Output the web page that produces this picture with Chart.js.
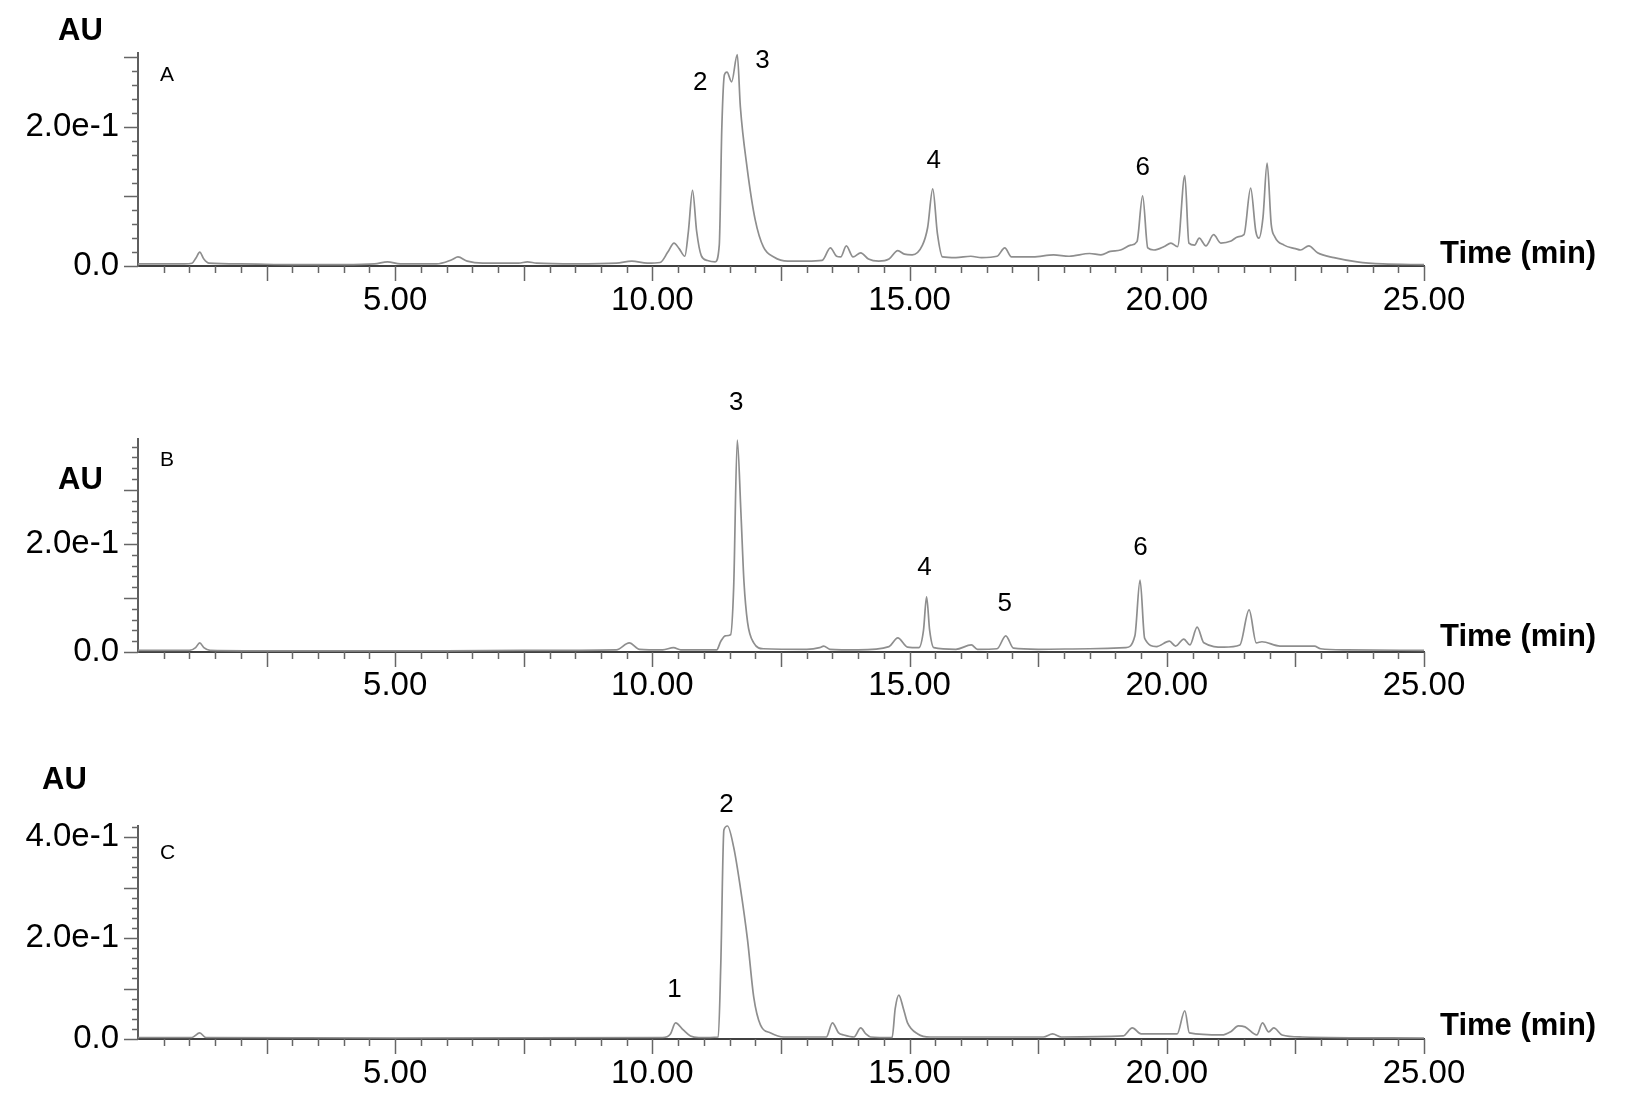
<!DOCTYPE html>
<html><head><meta charset="utf-8">
<script src="https://cdn.jsdelivr.net/npm/chart.js@4.4.1/dist/chart.umd.min.js"></script>
<style>
html,body{margin:0;padding:0;background:#fff;width:1630px;height:1102px;overflow:hidden}
canvas{position:absolute;left:0}
</style></head><body>
<canvas id="cA" width="1630" height="340" style="top:0px"></canvas>
<canvas id="cB" width="1630" height="370" style="top:340px"></canvas>
<canvas id="cC" width="1630" height="392" style="top:710px"></canvas>
<script>
// ---------- data (time in min, absorbance in AU) ----------
const timeA = [0,0.9,1.05,1.13,1.2,1.28,1.38,2,3,4,4.6,4.85,5.1,5.8,6.1,6.22,6.4,6.7,7.4,7.57,7.75,8.5,9.3,9.6,9.9,10.15,10.3,10.42,10.52,10.63,10.7,10.78,10.86,10.95,11.07,11.22,11.3,11.35,11.4,11.45,11.54,11.65,11.71,11.84,12.0,12.16,12.36,12.63,13.0,13.3,13.46,13.58,13.66,13.77,13.9,14.05,14.2,14.4,14.6,14.77,14.9,15.05,15.25,15.35,15.45,15.54,15.64,15.9,16.19,16.4,16.7,16.85,16.98,17.4,17.8,18.1,18.5,18.72,18.9,19.1,19.3,19.42,19.53,19.63,19.75,19.95,20.08,20.21,20.35,20.43,20.54,20.63,20.76,20.91,21.05,21.25,21.38,21.5,21.63,21.73,21.79,21.87,21.95,22.03,22.1,22.28,22.5,22.6,22.76,22.93,23.25,23.7,24.2,25];
const auA   = [0.003,0.003,0.004,0.012,0.020,0.010,0.004,0.003,0.002,0.002,0.003,0.006,0.003,0.003,0.009,0.013,0.007,0.004,0.004,0.006,0.004,0.003,0.004,0.007,0.004,0.005,0.020,0.033,0.025,0.014,0.050,0.109,0.050,0.015,0.008,0.006,0.030,0.200,0.275,0.279,0.265,0.304,0.229,0.142,0.066,0.027,0.013,0.007,0.007,0.008,0.026,0.014,0.013,0.029,0.013,0.019,0.010,0.007,0.010,0.022,0.017,0.016,0.030,0.055,0.111,0.047,0.013,0.012,0.014,0.012,0.014,0.026,0.013,0.013,0.016,0.014,0.018,0.016,0.021,0.023,0.030,0.035,0.101,0.026,0.023,0.028,0.033,0.028,0.130,0.033,0.030,0.040,0.029,0.045,0.033,0.036,0.042,0.045,0.112,0.050,0.040,0.070,0.148,0.060,0.042,0.030,0.025,0.023,0.029,0.019,0.012,0.006,0.003,0.002];

const timeB = [0,1.0,1.12,1.2,1.28,1.4,3,6,7.5,9.3,9.55,9.75,10.2,10.41,10.55,11.25,11.33,11.42,11.52,11.58,11.65,11.72,11.78,11.85,11.97,12.16,13.0,13.25,13.33,13.45,14.0,14.6,14.77,14.96,15.18,15.27,15.33,15.39,15.47,15.9,16.2,16.32,16.7,16.87,17.02,17.5,18.5,19.2,19.38,19.48,19.57,19.8,20.05,20.17,20.33,20.45,20.59,20.72,21.11,21.42,21.6,21.74,21.85,22.2,22.87,22.99,23.5,25];
const auB   = [0.003,0.003,0.008,0.017,0.008,0.003,0.002,0.002,0.003,0.004,0.017,0.005,0.004,0.008,0.004,0.004,0.020,0.030,0.032,0.120,0.392,0.260,0.130,0.055,0.017,0.006,0.005,0.008,0.011,0.005,0.004,0.010,0.026,0.009,0.008,0.040,0.102,0.040,0.008,0.005,0.013,0.005,0.006,0.030,0.007,0.005,0.006,0.008,0.030,0.133,0.025,0.010,0.020,0.011,0.024,0.013,0.046,0.017,0.009,0.013,0.078,0.017,0.019,0.011,0.011,0.006,0.004,0.003];

const timeC = [0,1.05,1.2,1.32,5,10.2,10.35,10.45,10.6,10.74,10.9,11.28,11.33,11.39,11.46,11.58,11.71,11.85,11.97,12.1,12.3,12.55,13.38,13.5,13.62,13.72,13.92,14.05,14.15,14.24,14.66,14.72,14.79,14.88,14.96,15.16,15.4,17.6,17.78,17.95,19.15,19.33,19.5,20.2,20.35,20.44,21.07,21.25,21.39,21.52,21.75,21.86,21.98,22.08,22.24,22.63,25];
const auC   = [0.003,0.003,0.012,0.003,0.002,0.003,0.010,0.032,0.018,0.006,0.003,0.004,0.150,0.414,0.422,0.380,0.300,0.196,0.083,0.028,0.012,0.004,0.004,0.032,0.012,0.008,0.004,0.022,0.010,0.004,0.003,0.060,0.087,0.060,0.032,0.010,0.004,0.004,0.010,0.004,0.006,0.022,0.010,0.010,0.056,0.012,0.008,0.015,0.026,0.024,0.008,0.032,0.014,0.022,0.008,0.004,0.002];

// tick labels
const xTickValues = [5, 10, 15, 20, 25];
const xTickLabels = ['5.00', '10.00', '15.00', '20.00', '25.00'];
const yTickValues = [0, 0.2, 0.4];
const yTickLabels = ['0.0', '2.0e-1', '4.0e-1'];

// panel letters and peak labels
const panelLetters = ['A', 'B', 'C'];
const peakTextA = ['2', '3', '4', '6'];
const peakTimeA = [10.93, 12.14, 15.47, 19.53];
const peakAUA   = [0.263, 0.295, 0.151, 0.141];
const peakTextB = ['3', '4', '5', '6'];
const peakTimeB = [11.63, 15.29, 16.85, 19.49];
const peakAUB   = [0.461, 0.156, 0.089, 0.193];
const peakTextC = ['1', '2'];
const peakTimeC = [10.43, 11.44];
const peakAUC   = [0.097, 0.463];

// ---------- rendering ----------
const FONT = "'Liberation Sans', Arial, Helvetica, sans-serif";

const decor = {
  id: 'decor',
  afterDraw(chart, args, o) {
    const ctx = chart.ctx, xs = chart.scales.x, ys = chart.scales.y, ca = chart.chartArea;
    ctx.save();
    ctx.strokeStyle = '#666';
    ctx.lineWidth = 1.5;
    for (let i = 1; i <= 50; i++) {
      const px = Math.round(xs.getPixelForValue(i * 0.5)) + 0.5;
      const major = i % 5 === 0;
      ctx.beginPath(); ctx.moveTo(px, ca.bottom); ctx.lineTo(px, ca.bottom + (major ? 15 : 7)); ctx.stroke();
    }
    const n = Math.floor(o.yMax / 0.02 + 1e-6);
    for (let i = 0; i <= n; i++) {
      const py = Math.round(ys.getPixelForValue(i * 0.02)) + 0.5;
      const major = i % 5 === 0;
      ctx.beginPath(); ctx.moveTo(ca.left, py); ctx.lineTo(ca.left - (major ? 14 : 6), py); ctx.stroke();
    }
    ctx.fillStyle = '#000';
    ctx.textBaseline = 'middle';
    ctx.font = 'bold 31px ' + FONT;
    ctx.textAlign = 'left';
    ctx.fillText('AU', o.auX, o.auY);
    ctx.fillText('Time (min)', ca.right + 16, ca.bottom + o.timeDy);
    ctx.font = '21px ' + FONT;
    ctx.fillText(o.letter, ca.left + 22, ca.top + o.letterDy);
    ctx.font = '26px ' + FONT;
    ctx.textAlign = 'center';
    o.peakText.forEach((s, i) => {
      ctx.fillText(s, xs.getPixelForValue(o.peakTime[i]), ys.getPixelForValue(o.peakAU[i]));
    });
    ctx.restore();
  }
};

function makeChart(id, times, vals, cfg) {
  const pts = times.map((t, i) => ({ x: t, y: vals[i] }));
  return new Chart(document.getElementById(id), {
    type: 'line',
    data: { datasets: [{ data: pts, borderColor: '#8e8e8e', borderWidth: 1.7, pointRadius: 0,
      cubicInterpolationMode: 'monotone', fill: false, clip: 6 }] },
    options: {
      responsive: false, animation: false, devicePixelRatio: 1,
      layout: { padding: { top: cfg.padTop, right: 206, left: 0, bottom: 0 } },
      plugins: { legend: { display: false }, tooltip: { enabled: false }, decor: cfg.decor },
      scales: {
        x: {
          type: 'linear', min: 0, max: 25,
          afterFit: s => { s.height = cfg.xh; },
          grid: { display: false, drawTicks: false },
          border: { display: true, color: '#404040', width: 2 },
          ticks: {
            autoSkip: false, stepSize: 0.5, maxRotation: 0, padding: cfg.xPad,
            font: { size: 33, family: FONT }, color: '#000',
            callback: v => { const k = xTickValues.findIndex(t => Math.abs(t - v) < 1e-6); return k >= 0 ? xTickLabels[k] : ''; }
          }
        },
        y: {
          type: 'linear', min: 0, max: cfg.yMax,
          afterFit: s => { s.width = 138; },
          grid: { display: false, drawTicks: false },
          border: { display: true, color: '#5e5e5e', width: 2 },
          ticks: {
            autoSkip: false, stepSize: 0.02, padding: 19,
            font: { size: 33, family: FONT }, color: '#000',
            callback: v => { const k = yTickValues.findIndex(t => Math.abs(t - v) < 1e-6); return k >= 0 ? yTickLabels[k] : ''; }
          }
        }
      }
    },
    plugins: [decor]
  });
}

makeChart('cA', timeA, auA, { padTop: 53.3, xh: 74, xPad: 15, yMax: 0.306,
  decor: { yMax: 0.306, letter: panelLetters[0], letterDy: 22, auX: 58, auY: 31, timeDy: -12,
    peakText: peakTextA, peakTime: peakTimeA, peakAU: peakAUA } });
makeChart('cB', timeB, auB, { padTop: 99, xh: 58, xPad: 14, yMax: 0.394,
  decor: { yMax: 0.394, letter: panelLetters[1], letterDy: 21, auX: 58, auY: 140, timeDy: -15,
    peakText: peakTextB, peakTime: peakTimeB, peakAU: peakAUB } });
makeChart('cC', timeC, auC, { padTop: 116, xh: 63, xPad: 15, yMax: 0.422,
  decor: { yMax: 0.422, letter: panelLetters[2], letterDy: 27, auX: 42, auY: 70, timeDy: -13,
    peakText: peakTextC, peakTime: peakTimeC, peakAU: peakAUC } });
</script>
</body></html>
